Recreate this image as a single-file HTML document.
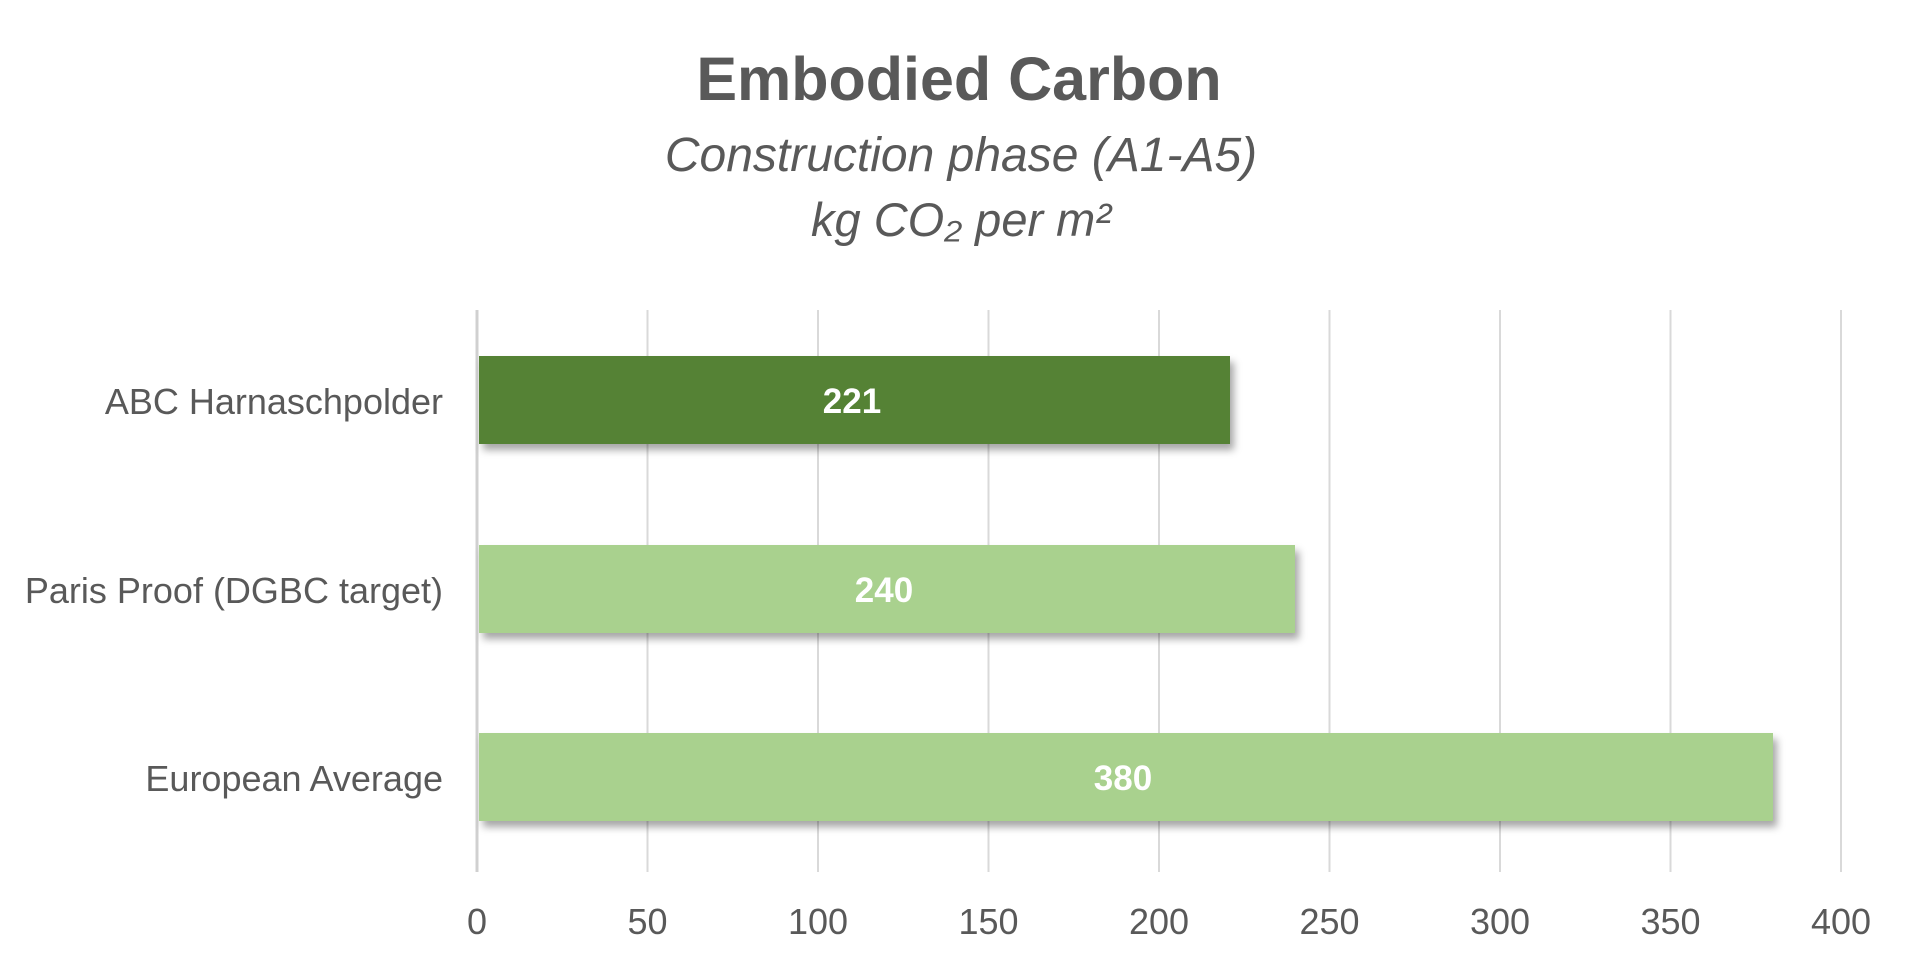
<!DOCTYPE html>
<html><head><style>
body{margin:0;width:1920px;height:975px;background:#fff;overflow:hidden;font-family:"Liberation Sans",sans-serif;}
</style></head><body>
<svg width="1920" height="975" xmlns="http://www.w3.org/2000/svg">
<defs><filter id="sh" x="-5%" y="-20%" width="110%" height="150%"><feDropShadow dx="4" dy="6" stdDeviation="4" flood-color="#000" flood-opacity="0.35"/></filter></defs>
<g font-family="Liberation Sans, sans-serif" fill="#595959" text-anchor="middle">
<text x="959" y="100" font-size="61" font-weight="bold">Embodied Carbon</text>
<text x="961" y="171" font-size="48" font-style="italic">Construction phase (A1-A5)</text>
<text x="961" y="236" font-size="47" font-style="italic">kg CO₂ per m²</text>
</g>
<g stroke="#d9d9d9" stroke-width="2">
<line x1="647.5" y1="310" x2="647.5" y2="872"/><line x1="818" y1="310" x2="818" y2="872"/>
<line x1="988.5" y1="310" x2="988.5" y2="872"/><line x1="1159" y1="310" x2="1159" y2="872"/>
<line x1="1329.5" y1="310" x2="1329.5" y2="872"/><line x1="1500" y1="310" x2="1500" y2="872"/>
<line x1="1670.5" y1="310" x2="1670.5" y2="872"/><line x1="1841" y1="310" x2="1841" y2="872"/>
</g>
<line x1="477" y1="310" x2="477" y2="872" stroke="#d0d0d0" stroke-width="3"/>
<g filter="url(#sh)">
<rect x="479" y="356" width="751" height="88" fill="#548235"/>
<rect x="479" y="545" width="816" height="88" fill="#a9d18e"/>
<rect x="479" y="733" width="1294" height="88" fill="#a9d18e"/>
</g>
<g font-family="Liberation Sans, sans-serif" fill="#fff" font-weight="bold" font-size="35" text-anchor="middle">
<text x="852" y="413">221</text><text x="884" y="602">240</text><text x="1123" y="790">380</text>
</g>
<g font-family="Liberation Sans, sans-serif" fill="#595959" font-size="36" text-anchor="end">
<text x="443" y="414">ABC Harnaschpolder</text>
<text x="443" y="603">Paris Proof (DGBC target)</text>
<text x="443" y="791">European Average</text>
</g>
<g font-family="Liberation Sans, sans-serif" fill="#595959" font-size="36" text-anchor="middle">
<text x="477" y="934">0</text><text x="647.5" y="934">50</text><text x="818" y="934">100</text>
<text x="988.5" y="934">150</text><text x="1159" y="934">200</text><text x="1329.5" y="934">250</text>
<text x="1500" y="934">300</text><text x="1670.5" y="934">350</text><text x="1841" y="934">400</text>
</g>
</svg>
</body></html>
